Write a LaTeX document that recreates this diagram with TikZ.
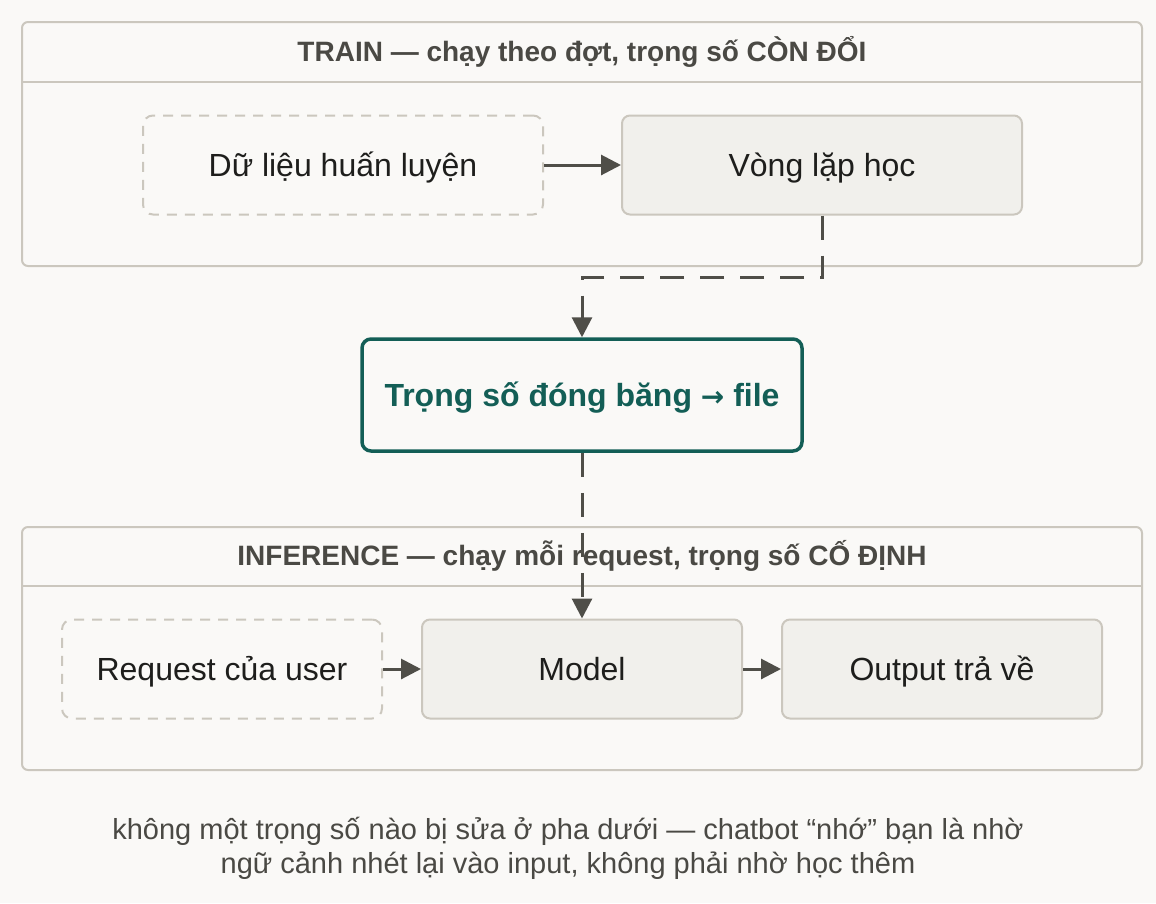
\documentclass[tikz,border=0pt]{standalone}
\usepackage{fontspec}
\setmainfont{Liberation Sans}
\newfontfamily\arrowfont{DejaVu Sans}
\usepackage{tikz}
\usetikzlibrary{arrows.meta, positioning}
\definecolor{bgpaper}{HTML}{FAF9F7}
\definecolor{frameline}{HTML}{CBC7BE}
\definecolor{boxfill}{HTML}{F1F0EC}
\definecolor{inkdark}{HTML}{1E1E1C}
\definecolor{inkgray}{HTML}{4A4944}
\definecolor{arrowgray}{HTML}{4F4E48}
\definecolor{frozenteal}{HTML}{135E56}

\begin{document}
\begin{tikzpicture}[x=1pt, y=-1pt,
    phase/.style={draw=frameline, line width=2pt, rounded corners=6pt},
    phasetitle/.style={font=\fontsize{28}{32}\selectfont\bfseries, text=inkgray},
    databox/.style={draw=frameline, line width=2pt, dash pattern=on 10pt off 8pt, rounded corners=10pt,
      minimum width=400pt, minimum height=99pt, text height=28pt, text depth=6pt,
      font=\fontsize{32}{38}\selectfont, text=inkdark},
    stepbox/.style={draw=frameline, fill=boxfill, line width=2pt, rounded corners=8pt,
      minimum width=400pt, minimum height=99pt, text height=28pt, text depth=6pt,
      font=\fontsize{32}{38}\selectfont, text=inkdark},
    flow/.style={-{Triangle[length=20pt, width=20pt]}, line width=3pt, draw=arrowgray},
    dashflow/.style={flow, dash pattern=on 24pt off 16pt}]
    \fill[bgpaper] (0,0) rectangle (1156,903);
    \useasboundingbox (0,0) rectangle (1156,903);

    % train phase
    \draw[phase] (22,22) rectangle (1142,266);
    \draw[frameline, line width=2pt] (22,82) -- (1142,82);
    \node[phasetitle] (traintitle) at (582,52) {TRAIN — chạy theo đợt, trọng số CÒN ĐỔI};
    \node[databox] (data) at (343,165) {Dữ liệu huấn luyện};
    \node[stepbox] (loop) at (822,165) {Vòng lặp học};
    \draw[flow] (data) -- (loop);

    % frozen weights
    \node[draw=frozenteal, line width=3.5pt, rounded corners=9pt, minimum width=440pt, minimum height=112pt,
      text height=28pt, text depth=6pt,
      font=\fontsize{32}{38}\selectfont\bfseries, text=frozenteal] (frozen) at (582,395)
      {Trọng số đóng băng {\arrowfont\fontsize{28}{32}\selectfont →} file};
    \draw[dashflow] (loop.south) -- ++(0,62) -| (frozen.north);

    % inference phase
    \draw[phase] (22,527) rectangle (1142,770);
    \draw[frameline, line width=2pt] (22,586) -- (1142,586);
    \node[phasetitle] (infertitle) at (582,556) {INFERENCE — chạy mỗi request, trọng số CỐ ĐỊNH};
    \node[databox, minimum width=320pt] (request) at (222,669) {Request của user};
    \node[stepbox, minimum width=320pt] (model) at (582,669) {Model};
    \node[stepbox, minimum width=320pt] (output) at (942,669) {Output trả về};
    \draw[flow] (request) -- (model);
    \draw[flow] (model) -- (output);
    \draw[dashflow] (frozen.south) -- (model.north);

    \node[align=center, text=inkgray, font=\fontsize{29}{34}\selectfont] (note) at (568,848)
      {không một trọng số nào bị sửa ở pha dưới — chatbot “nhớ” bạn là nhờ\\ngữ cảnh nhét lại vào input, không phải nhờ học thêm};
\end{tikzpicture}
\end{document}
